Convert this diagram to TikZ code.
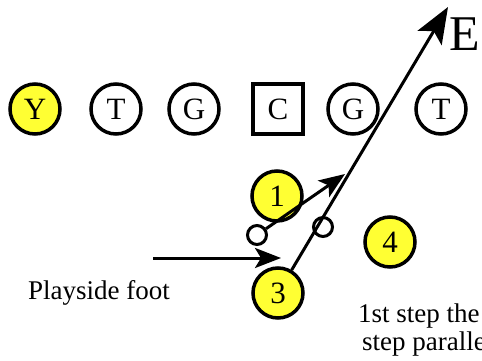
\documentclass[tikz,border=0pt]{standalone}
\usepackage{fontspec}
\setmainfont{Liberation Serif}
\newfontfamily\tms{Liberation Serif}
\usetikzlibrary{arrows.meta}
\definecolor{pyellow}{RGB}{255,255,51}
\tikzset{
  bighead/.tip={Stealth[length=36pt,width=28pt,inset=8pt]},
  smallhead/.tip={Stealth[length=26pt,width=20pt,inset=6pt]}
}
\begin{document}
\begin{tikzpicture}[x=1pt,y=1pt,
  player/.style={circle,draw,line width=3.5pt,minimum size=50pt,inner sep=0pt,font=\tms\fontsize{31}{31}\selectfont},
  yplayer/.style={player,fill=pyellow},
  center/.style={rectangle,draw,line width=3.5pt,minimum size=50pt,inner sep=0pt,font=\tms\fontsize{31}{31}\selectfont},
  foot/.style={circle,draw,line width=3pt,minimum size=19pt,inner sep=0pt},
  lbl/.style={font=\tms\fontsize{27}{27}\selectfont,inner sep=0pt,anchor=base west}]
\useasboundingbox (0,0) rectangle (482,360);
\clip (0,0) rectangle (482,360);
% line of scrimmage
\node[yplayer] (Y) at (35,251) {Y};
\node[player] (T1) at (116,251) {T};
\node[player] (G1) at (194,251) {G};
\node[center] (C) at (278,251) {C};
\node[player] (G2) at (353,251) {G};
\node[player] (T2) at (441,251) {T};
% backs
\node[yplayer] (p1) at (277,164) {1};
\node[yplayer] (p3) at (278,67) {3};
\node[yplayer] (p4) at (390,118) {4};
% footsteps
\node[foot] (s1) at (257,125) {};
\node[foot] (s2) at (323,133) {};
% end label
\node[font=\tms\fontsize{50}{50}\selectfont,inner sep=0pt,anchor=base west] (E) at (449,310) {E};
% routes
\coordinate (tipE) at (448,353);
\coordinate (tip1) at (345,186);
\draw[line width=3pt,-bighead] (p3) -- (tipE);
\draw[line width=3pt,-smallhead] (s1) -- (tip1);
\coordinate (fa) at (153,102);
\coordinate (fb) at (281,102);
\draw[line width=3pt,-smallhead] (fa) -- (fb);
% labels
\node[lbl] (pf) at (28,61) {Playside foot};
\node[lbl] (n1) at (358,38) {1st step the};
\node[lbl] (n2) at (362,10) {step paralle};
\end{tikzpicture}
\end{document}
